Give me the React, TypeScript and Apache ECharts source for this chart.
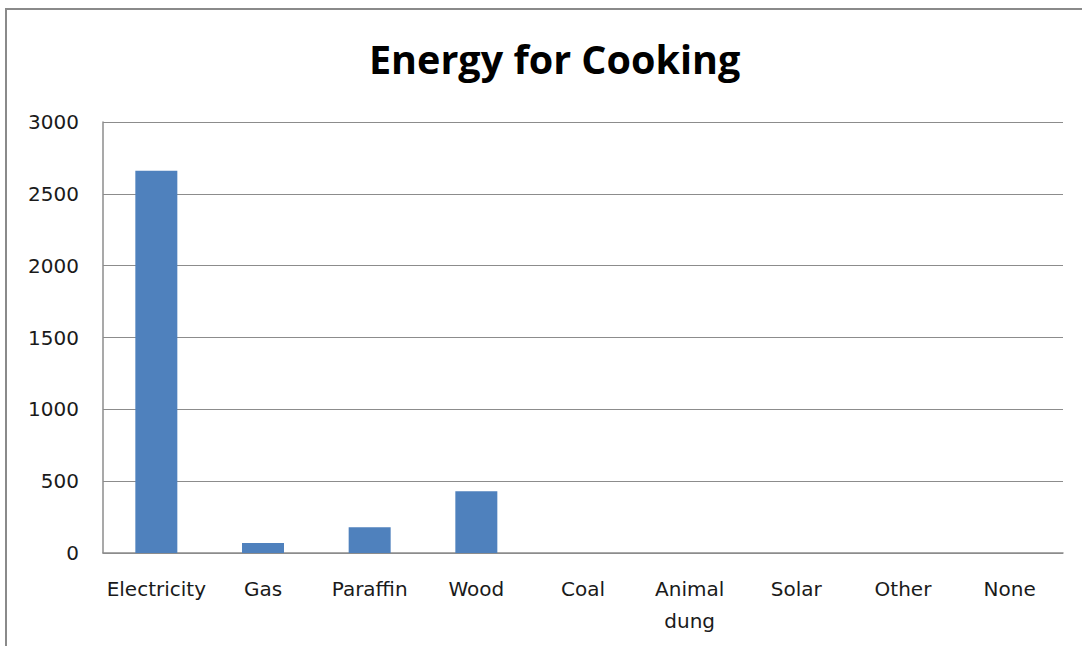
import React, { useEffect, useRef } from "react";
import * as echarts from "echarts";

const categories = ["Electricity", "Gas", "Paraffin", "Wood", "Coal", "Animal\ndung", "Solar", "Other", "None"];
const values = [2660, 70, 180, 430, 0, 0, 0, 0, 0];
const yTicks = { min: 0, max: 3000, interval: 500 };

export default function App() {
  const ref = useRef<HTMLDivElement>(null);
  useEffect(() => {
    const chart = echarts.init(ref.current!, null, { renderer: "svg" });
    chart.setOption({
      animation: false,
      backgroundColor: "#ffffff",
      title: {
        text: "Energy for Cooking",
        left: 364,
        top: 34,
        textStyle: { fontFamily: "Open Sans", fontWeight: "bold", fontSize: 39.5, color: "#000" },
      },
      graphic: [
        {
          type: "rect",
          shape: { x: 6, y: 9, width: 1200, height: 800 },
          style: { fill: "none", stroke: "#8a8a8a", lineWidth: 2 },
          silent: true,
        },
      ],
      grid: { left: 103, right: 19, top: 122, bottom: 93, containLabel: false },
      xAxis: {
        type: "category",
        data: categories,
        axisLine: { show: true, lineStyle: { color: "#8c8c8c", width: 1.5 } },
        axisTick: { show: false },
        axisLabel: {
          color: "#1a1a1a",
          fontFamily: "DejaVu Sans",
          fontSize: 20,
          margin: 20,
          lineHeight: 32,
          interval: 0,
        },
      },
      yAxis: {
        type: "value",
        min: yTicks.min,
        max: yTicks.max,
        interval: yTicks.interval,
        axisLine: { show: true, lineStyle: { color: "#8c8c8c", width: 1.5 } },
        axisTick: { show: false },
        axisLabel: {
          color: "#1a1a1a",
          fontFamily: "DejaVu Sans",
          fontSize: 20,
          margin: 24,
          formatter: (v: number) => String(v),
        },
        splitLine: { show: true, lineStyle: { color: "#8c8c8c", width: 1 } },
      },
      series: [
        {
          type: "bar",
          data: values,
          barWidth: 42,
          itemStyle: { color: "#4f81bd" },
        },
      ],
    });
    return () => chart.dispose();
  }, []);
  return (
    <div
      ref={ref}
      style={{ position: "fixed", left: 0, top: 0, width: 1082, height: 646 }}
    />
  );
}
